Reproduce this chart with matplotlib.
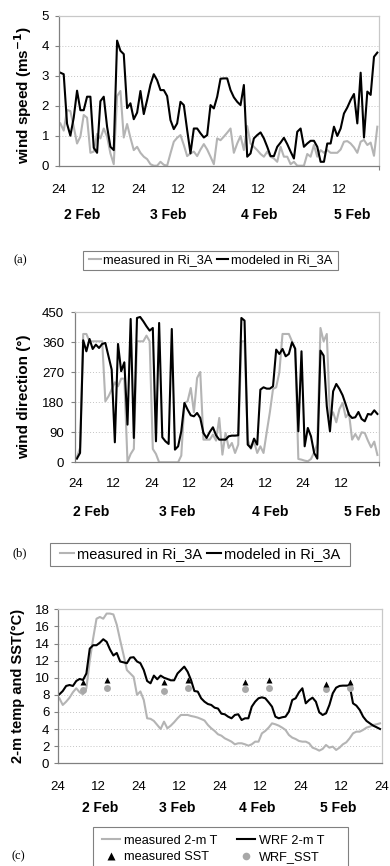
import numpy as np
import matplotlib.pyplot as plt
from matplotlib import transforms
from matplotlib.lines import Line2D
from matplotlib.patches import Rectangle

plt.rcParams['font.family'] = ['Liberation Sans', 'DejaVu Sans']

# hourly values, first point = hour 0 after 24:00 of 1 Feb
speed_measured = [
    1.41, 1.17, 1.86, 1.82, 1.3, 0.74, 0.97, 1.69, 1.6, 0.43,
    0.47, 1.06, 0.91, 1.24, 0.97, 0.41, 0.05, 2.32, 2.49, 0.94,
    1.39, 0.93, 0.52, 0.63, 0.43, 0.3, 0.22, 0.05, 0.0, 0.0,
    0.13, 0.03, 0.0, 0.41, 0.8, 0.93, 1.02, 0.69, 0.32, 0.41,
    0.47, 0.32, 0.54, 0.72, 0.54, 0.3, 0.05, 0.91, 0.85, 0.97,
    1.1, 1.24, 0.43, 0.74, 0.99, 0.52, 1.32, 0.74, 0.63, 0.52,
    0.39, 0.3, 0.47, 0.3, 0.24, 0.13, 0.63, 0.3, 0.3, 0.05,
    0.13, 0.0, 0.0, 0.0, 0.39, 0.3, 0.69, 0.3, 0.52, 0.43,
    0.52, 0.43, 0.43, 0.43, 0.54, 0.8, 0.82, 0.74, 0.61, 0.43,
    0.8, 0.86, 0.69, 0.77, 0.33, 1.3]
speed_modeled = [
    3.1, 3.05, 1.4, 1.0, 1.6, 2.5, 1.85, 1.85, 2.3, 2.3,
    0.6, 0.43, 2.15, 2.3, 1.3, 0.63, 0.52, 4.17, 3.83, 3.72,
    1.92, 2.08, 1.55, 1.77, 2.49, 1.72, 2.19, 2.7, 3.05, 2.85,
    2.52, 2.52, 2.32, 1.52, 1.22, 1.41, 2.13, 2.02, 1.19, 0.41,
    1.24, 1.24, 1.08, 0.94, 1.02, 2.02, 1.91, 2.3, 2.9, 2.91,
    2.91, 2.52, 2.28, 2.13, 2.02, 2.69, 0.3, 0.41, 0.91, 1.02,
    1.11, 0.91, 0.63, 0.32, 0.32, 0.63, 0.77, 0.93, 0.72, 0.47,
    0.24, 1.13, 1.24, 0.63, 0.74, 0.83, 0.83, 0.63, 0.13, 0.13,
    0.74, 0.74, 1.3, 0.99, 1.24, 1.74, 1.94, 2.19, 2.39, 1.41,
    3.1, 0.94, 2.47, 2.36, 3.63, 3.77]

dir_measured = [
    15, 43, 385, 385, 363, 363, 363, 363, 363, 183,
    198, 218, 240, 228, 251, 251, 1, 25, 40, 363,
    363, 363, 380, 363, 40, 25, 0, 0, 0, 0,
    0, 0, 0, 20, 178, 183, 223, 150, 253, 271,
    68, 68, 68, 83, 65, 133, 23, 88, 43, 58,
    28, 53, 363, 363, 68, 40, 63, 28, 48, 28,
    90, 150, 220, 225, 270, 385, 385, 385, 363, 340,
    10, 8, 5, 3, 10, 30, 55, 403, 363, 385,
    133, 150, 120, 160, 178, 135, 148, 68, 85, 68,
    90, 88, 65, 45, 62, 22]
dir_modeled = [
    11, 28, 366, 333, 370, 340, 353, 343, 355, 358,
    318, 278, 60, 355, 273, 300, 113, 430, 73, 433,
    436, 423, 408, 395, 403, 63, 418, 75, 63, 55,
    400, 38, 48, 93, 178, 158, 141, 138, 148, 133,
    88, 73, 91, 105, 81, 68, 68, 68, 78, 80,
    80, 81, 433, 425, 53, 43, 71, 53, 218, 225,
    221, 221, 228, 338, 325, 340, 318, 325, 360, 341,
    93, 333, 48, 103, 78, 28, 11, 335, 320, 168,
    93, 213, 235, 220, 201, 173, 143, 133, 135, 151,
    130, 123, 145, 143, 156, 145]

temp_measured = [
    7.6, 6.82, 7.2, 7.67, 8.3, 8.77, 8.3, 8.06, 8.77, 12.0,
    14.6, 16.9, 17.1, 16.9, 17.5, 17.5, 17.4, 16.2, 14.4, 12.7,
    10.9, 10.5, 10.1, 8.0, 8.4, 7.4, 5.26, 5.2, 4.95, 4.48,
    4.01, 4.87, 4.09, 4.4, 4.8, 5.26, 5.65, 5.65, 5.65, 5.53,
    5.45, 5.34, 5.18, 5.0, 4.48, 4.09, 3.78, 3.39, 3.23, 2.92,
    2.73, 2.53, 2.22, 2.34, 2.34, 2.22, 2.06, 2.22, 2.53, 2.53,
    3.5, 3.78, 4.17, 4.67, 4.56, 4.4, 4.17, 3.9, 3.31, 3.0,
    2.84, 2.61, 2.53, 2.53, 2.34, 1.83, 1.68, 1.48, 1.68, 2.14,
    1.83, 1.95, 1.56, 1.83, 2.22, 2.45, 2.92, 3.5, 3.7, 3.7,
    3.9, 4.17, 4.29, 4.48, 4.56, 4.67]
temp_wrf = [
    8.06, 8.45, 9.04, 9.15, 9.04, 9.62, 9.86, 9.74, 10.5, 13.4,
    13.8, 13.8, 14.1, 14.5, 14.2, 13.3, 12.6, 12.9, 11.9, 11.8,
    11.7, 12.35, 12.4, 11.9, 11.7, 10.9, 9.62, 9.35, 10.25, 9.82,
    10.25, 10.0, 9.86, 9.7, 9.7, 10.5, 10.9, 11.3, 10.7, 9.74,
    8.45, 8.38, 7.6, 7.2, 6.93, 6.82, 6.5, 6.4, 5.8, 5.73,
    5.45, 5.26, 5.65, 5.73, 5.06, 5.26, 5.26, 6.62, 7.2, 7.6,
    7.71, 7.6, 7.13, 6.62, 5.45, 5.26, 5.38, 5.45, 6.04, 7.4,
    7.6, 8.3, 8.77, 7.01, 7.4, 7.67, 7.2, 5.96, 5.65, 5.84,
    6.82, 8.18, 8.84, 9.04, 9.08, 9.08, 9.1, 7.01, 6.74, 6.23,
    5.45, 4.95, 4.67, 4.4, 4.21, 4.01]

sst_hours = [7, 14, 31, 38, 55, 62, 79, 86]
sst_measured = [9.5, 9.75, 9.45, 9.7, 9.5, 9.75, 9.3, 9.45]
sst_wrf = [8.6, 8.75, 8.5, 8.75, 8.7, 8.85, 8.7, 8.85]

hour_labels = ["24", "12", "24", "12", "24", "12", "24", "12", "24"]
day_labels = ["2 Feb", "3 Feb", "4 Feb", "5 Feb"]

GRAY = "#b4b4b4"
W, H = 390, 866

fig = plt.figure(figsize=(3.9, 8.66), dpi=100)


def px_box(left, top, right, bottom):
    return [left / W, 1 - bottom / H, (right - left) / W, (bottom - top) / H]


def style(ax, ymax, ystep, n_labels, label_pad, ypad):
    ax.set_xlim(0, 96)
    ax.set_ylim(0, ymax)
    ax.set_yticks(np.arange(0, ymax + ystep / 2, ystep))
    ax.set_xticks(np.arange(n_labels) * 12)
    ax.set_xticklabels(hour_labels[:n_labels])
    ax.set_xticks(np.arange(0, 97, 24), minor=True)
    ax.tick_params(axis="x", which="major", length=0, pad=label_pad, labelsize=9.5)
    ax.tick_params(axis="x", which="minor", length=3, width=0.8, color="#808080")
    ax.tick_params(axis="y", length=3, width=0.8, color="#808080",
                   labelsize=9.5, pad=ypad)
    ax.grid(axis="y", which="major", color="#c4c4c4", linestyle=(0, (1, 2)), lw=0.7)
    ax.set_axisbelow(True)
    for side in ["left", "bottom"]:
        ax.spines[side].set_color("#808080")
    for side in ["top", "right"]:
        ax.spines[side].set_color("#c8c8c8")
    for s in ax.spines.values():
        s.set_linewidth(0.9)


def days(ax, xs, ypx, size):
    tr = transforms.blended_transform_factory(ax.transData, fig.transFigure)
    for x, t in zip(xs, day_labels):
        ax.text(x, 1 - ypx / H, t, transform=tr, ha="center", va="center",
                fontsize=size, fontweight="bold")


def frame_box(left, top, right, bottom):
    fig.patches.append(Rectangle((left / W, 1 - bottom / H),
                                 (right - left) / W, (bottom - top) / H,
                                 transform=fig.transFigure, fill=False,
                                 edgecolor="#808080", lw=0.8))


hours = np.arange(96) + 0.5

# (a) wind speed
ax_a = fig.add_axes(px_box(58.7, 15.7, 379, 165.7))
ax_a.plot(hours, speed_measured, color=GRAY, lw=1.5, label="measured in Ri_3A")
ax_a.plot(hours, speed_modeled, color="black", lw=1.5, label="modeled in Ri_3A")
style(ax_a, 5, 1, 8, 13, 4)
days(ax_a, [7.0, 32.7, 60.2, 88.0], 214.7, 10)
fig.text(23 / W, 1 - 95 / H, "wind speed (ms$^{\\mathbf{-1}}$)", rotation=90,
         ha="center", va="center", fontsize=11, fontweight="bold")
ax_a.legend(loc="center", bbox_to_anchor=(210.5 / W, 1 - 260.5 / H),
            bbox_transform=fig.transFigure, ncol=2, fontsize=9.3,
            handlelength=0.9, handletextpad=0.2, columnspacing=0.3,
            frameon=False)
frame_box(83, 251, 338, 270)
fig.text(20 / W, 1 - 260 / H, "(a)", family="Liberation Serif", fontsize=9,
         ha="center", va="center")

# (b) wind direction
ax_b = fig.add_axes(px_box(75.3, 312.3, 379, 462.3))
ax_b.plot(hours, dir_measured, color=GRAY, lw=1.5, label="measured in Ri_3A")
ax_b.plot(hours, dir_modeled, color="black", lw=1.5, label="modeled in Ri_3A")
style(ax_b, 450, 90, 8, 11, 5)
days(ax_b, [5.0, 32.1, 61.5, 90.8], 511.7, 10)
fig.text(24 / W, 1 - 397 / H, "wind direction (°)", rotation=90,
         ha="center", va="center", fontsize=11, fontweight="bold")
ax_b.legend(loc="center", bbox_to_anchor=(200 / W, 1 - 554.5 / H),
            bbox_transform=fig.transFigure, ncol=2, fontsize=10.5,
            handlelength=1.0, handletextpad=0.2, columnspacing=0.3,
            frameon=False)
frame_box(50, 543, 350, 566)
fig.text(20 / W, 1 - 553 / H, "(b)", family="Liberation Serif", fontsize=9,
         ha="center", va="center")

# (c) 2-m temperature and SST
ax_c = fig.add_axes(px_box(57.7, 609.3, 381.7, 763.3))
ax_c.plot(hours, temp_measured, color=GRAY, lw=1.5)
ax_c.plot(hours, temp_wrf, color="black", lw=1.5)
sst_x = np.array(sst_hours) + 0.5
ax_c.plot(sst_x, sst_wrf, "o", color="#a8a8a8", ms=5, mec="none")
ax_c.plot(sst_x, sst_measured, "^", color="black", ms=5, mec="none")
style(ax_c, 18, 2, 9, 13, 3)
days(ax_c, [12.5, 35.4, 59.0, 83.1], 808, 10)
fig.text(18 / W, 1 - 686 / H, "2-m temp and SST(°C)", rotation=90,
         ha="center", va="center", fontsize=10.5, fontweight="bold")
handles = [
    Line2D([], [], color=GRAY, lw=1.5),
    Line2D([], [], marker="^", ls="none", color="black", ms=5.5, mec="none"),
    Line2D([], [], color="black", lw=1.5),
    Line2D([], [], marker="o", ls="none", color="#a8a8a8", ms=5.5, mec="none"),
]
labels = ["measured 2-m T", "measured SST", "WRF 2-m T", "WRF_SST"]
ax_c.legend(handles, labels, loc="upper left",
            bbox_to_anchor=(93 / W, 1 - 826 / H),
            bbox_transform=fig.transFigure, ncol=2, fontsize=9.2,
            handlelength=1.45, handletextpad=0.3, columnspacing=1.5,
            borderpad=0.2, labelspacing=0.35, frameon=False)
frame_box(93, 827, 348, 890)
fig.text(18 / W, 1 - 856 / H, "(c)", family="Liberation Serif", fontsize=9,
         ha="center", va="center")

fig.savefig("out.png", dpi=100)
